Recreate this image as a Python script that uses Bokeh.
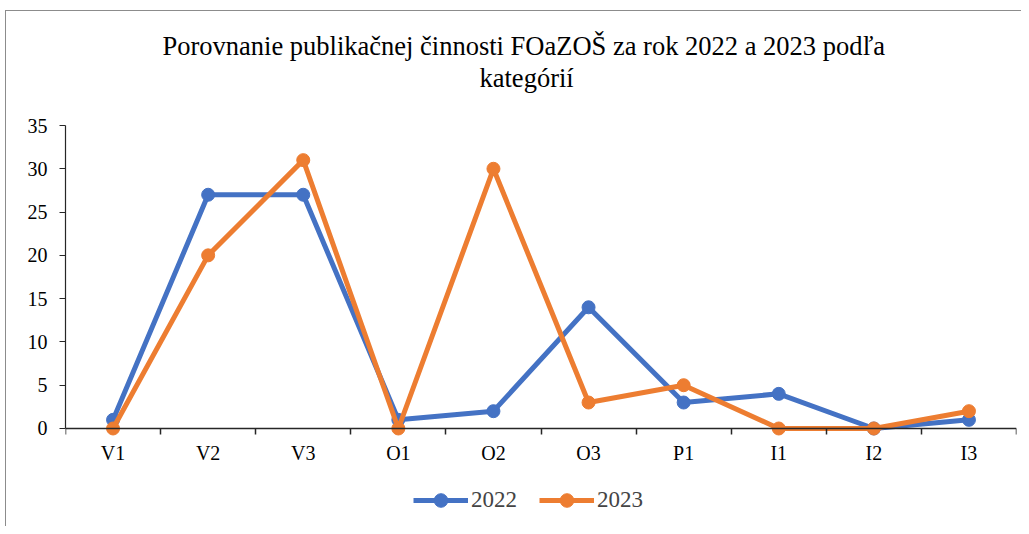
from bokeh.plotting import figure
from bokeh.models import Range1d, FixedTicker, Legend, LegendItem, Title
from bokeh.embed import file_html
from bokeh.resources import INLINE

categories = ["V1", "V2", "V3", "O1", "O2", "O3", "P1", "I1", "I2", "I3"]
values_2022 = [1, 27, 27, 1, 2, 14, 3, 4, 0, 1]
values_2023 = [0, 20, 31, 0, 30, 3, 5, 0, 0, 2]
y_ticks = [0, 5, 10, 15, 20, 25, 30, 35]

BLUE = "#4472C4"
ORANGE = "#ED7D31"
FONT = "Liberation Serif"
AXIS = "#262626"

xs = [i + 0.5 for i in range(len(categories))]

p = figure(width=1021, height=526, output_backend="svg", toolbar_location=None,
           x_range=Range1d(0, len(categories)), y_range=Range1d(-10.86, 35),
           min_border_left=65, min_border_right=5, min_border_top=125, min_border_bottom=4)

p.xgrid.visible = False
p.ygrid.visible = False
p.outline_line_color = None
p.border_fill_alpha = 0
# thin chart-area border on the top and left sides
p.styles = {"box-shadow": "inset 5px 10px 0 #ffffff, inset 6px 11px 0 #8c8c8c"}

# title: first line is the figure's own title (outer), second line is added closer to the frame
p.title.text = "Porovnanie publikačnej činnosti FOaZOŠ za rok 2022 a 2023 podľa"
p.title.align = "left"
p.title.offset = 97
p.title.text_font = FONT
p.title.text_font_size = "26.5px"
p.title.text_font_style = "normal"
p.title.text_color = "#000000"
p.title.standoff = -64
line2 = Title(text="kategórií", align="left", offset=414, text_font=FONT,
              text_font_size="26.5px", text_font_style="normal",
              text_color="#000000", standoff=65)
p.add_layout(line2, "above")

r1l = p.line(xs, values_2022, line_color=BLUE, line_width=5)
r1s = p.scatter(xs, values_2022, size=13, fill_color=BLUE, line_color=BLUE)
r2l = p.line(xs, values_2023, line_color=ORANGE, line_width=5)
r2s = p.scatter(xs, values_2023, size=13, fill_color=ORANGE, line_color=ORANGE)

# x axis
xa = p.xaxis[0]
xa.fixed_location = 0
xa.ticker = FixedTicker(ticks=xs, minor_ticks=list(range(len(categories) + 1)))
xa.major_label_overrides = {x: c for x, c in zip(xs, categories)}
xa.major_tick_out = 0
xa.major_tick_in = 0
xa.minor_tick_out = 6
xa.minor_tick_in = 0
xa.minor_tick_line_color = AXIS
xa.minor_tick_line_width = 1.5
xa.axis_line_color = AXIS
xa.axis_line_width = 1.5
xa.major_label_text_font = FONT
xa.major_label_text_font_size = "20px"
xa.major_label_text_color = "#000000"
xa.major_label_standoff = 8

# y axis
ya = p.yaxis[0]
ya.bounds = (0, 35)
ya.ticker = FixedTicker(ticks=y_ticks, minor_ticks=[])
ya.major_tick_out = 6
ya.major_tick_in = 0
ya.major_tick_line_color = AXIS
ya.axis_line_color = AXIS
ya.axis_line_width = 1.2
ya.major_label_text_font = FONT
ya.major_label_text_font_size = "20px"
ya.major_label_text_color = "#000000"
ya.major_label_standoff = 12

legend = Legend(items=[LegendItem(label="2022", renderers=[r1l, r1s]),
                       LegendItem(label="2023", renderers=[r2l, r2s])],
                orientation="horizontal", location=(348, 5),
                glyph_width=55, glyph_height=34, label_standoff=3, spacing=22,
                padding=0, margin=0,
                label_text_font=FONT, label_text_font_size="23px",
                border_line_color=None, background_fill_alpha=0)
p.add_layout(legend, "center")

open("out.html", "w").write(file_html(p, INLINE))
